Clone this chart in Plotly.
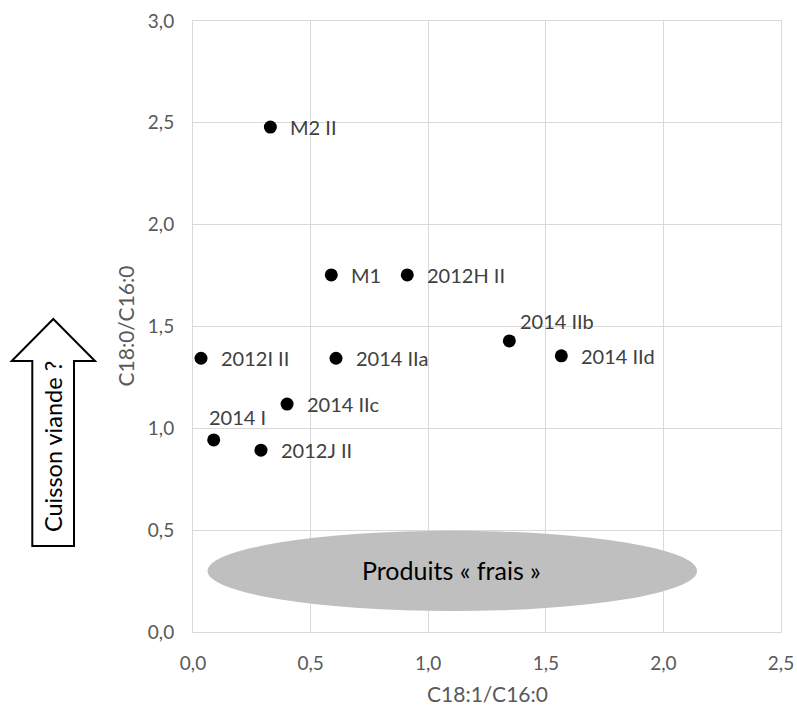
import plotly.graph_objects as go

# ---- data ----
labels = ["M2 II", "M1", "2012H II", "2014 IIb", "2014 IId",
          "2012I II", "2014 IIa", "2014 IIc", "2014 I", "2012J II"]
c18_1_c16_0 = [0.329, 0.588, 0.911, 1.345, 1.566, 0.034, 0.608, 0.400, 0.088, 0.289]
c18_0_c16_0 = [2.479, 1.753, 1.753, 1.429, 1.356, 1.344, 1.344, 1.119, 0.943, 0.893]

x_ticks = [0.0, 0.5, 1.0, 1.5, 2.0, 2.5]
y_ticks = [0.0, 0.5, 1.0, 1.5, 2.0, 2.5, 3.0]

# fresh-products zone (ellipse extent in data units)
fresh_x = [0.062, 2.143]
fresh_y = [0.103, 0.497]
fresh_label = "Produits « frais »"
arrow_label = "Cuisson viande ?"

W, H = 797, 706
ML, MR, MT, MB = 193, 16, 21, 74
PW, PH = W - ML - MR, H - MT - MB

FONT = "Lato, Carlito, Calibri, sans-serif"
GRAY = "#595959"
GRID = "#D9D9D9"


def px(xp):
    return (xp - ML) / PW


def py(yp):
    return (H - MB - yp) / PH


fig = go.Figure()
fig.add_trace(go.Scatter(
    x=c18_1_c16_0, y=c18_0_c16_0, mode="markers",
    marker=dict(size=13, color="black"), hoverinfo="text", text=labels,
    showlegend=False,
))

# point labels
special = {"2014 I": (-7, 23), "2014 IIb": (9, 20)}
for lab, xv, yv in zip(labels, c18_1_c16_0, c18_0_c16_0):
    xs, ys = special.get(lab, (18, 0))
    fig.add_annotation(x=xv, y=yv, text=lab, showarrow=False,
                       xanchor="left", yanchor="middle", xshift=xs, yshift=ys,
                       font=dict(family=FONT, size=20, color="#404040"))

# ellipse
fig.add_shape(type="circle", xref="x", yref="y",
              x0=fresh_x[0], x1=fresh_x[1], y0=fresh_y[0], y1=fresh_y[1],
              fillcolor="#BFBFBF", line=dict(width=0), layer="above")
fig.add_annotation(x=px(451.7), y=py(570), xref="paper", yref="paper",
                   xanchor="center", yanchor="middle",
                   text=fresh_label, showarrow=False,
                   font=dict(family=FONT, size=25, color="black"))

# block arrow
pts = [(53.3, 319), (95, 361), (74, 361), (74, 546), (32.3, 546),
       (32.3, 361), (11.7, 361)]
path = "M " + " L ".join(f"{px(a):.5f},{py(b):.5f}" for a, b in pts) + " Z"
fig.add_shape(type="path", xref="paper", yref="paper", path=path,
              fillcolor="white", line=dict(color="black", width=2))
fig.add_annotation(x=px(53), y=py(447), xref="paper", yref="paper",
                   xanchor="center", yanchor="middle",
                   text=arrow_label, showarrow=False, textangle=-90,
                   font=dict(family=FONT, size=23.5, color="black"))

# axis titles
fig.add_annotation(x=px(125), y=0.5, xref="paper", yref="paper",
                   xanchor="center", yanchor="middle",
                   text="C18:0/C16:0", showarrow=False, textangle=-90,
                   font=dict(family=FONT, size=21, color=GRAY))
fig.add_annotation(x=0.5, y=py(693), xref="paper", yref="paper",
                   xanchor="center", yanchor="middle",
                   text="C18:1/C16:0", showarrow=False,
                   font=dict(family=FONT, size=21, color=GRAY))

fig.update_xaxes(range=[0, 2.5], tickvals=x_ticks,
                 ticktext=[f"{v:.1f}".replace(".", ",") for v in x_ticks],
                 showgrid=True, gridcolor=GRID, gridwidth=1,
                 showline=True, linecolor=GRID, linewidth=1, mirror=True,
                 zeroline=False, ticks="", ticklabelstandoff=14,
                 automargin=False,
                 tickfont=dict(family=FONT, size=19, color=GRAY))
fig.update_yaxes(range=[0, 3.0], tickvals=y_ticks,
                 ticktext=[f"{v:.1f}".replace(".", ",") for v in y_ticks],
                 showgrid=True, gridcolor=GRID, gridwidth=1,
                 showline=True, linecolor=GRID, linewidth=1, mirror=True,
                 zeroline=False, ticks="", ticklabelstandoff=14,
                 automargin=False,
                 tickfont=dict(family=FONT, size=19, color=GRAY))

fig.update_layout(width=W, height=H,
                  margin=dict(l=ML, r=MR, t=MT, b=MB, pad=0, autoexpand=False),
                  paper_bgcolor="white", plot_bgcolor="white",
                  showlegend=False)

fig.write_html("out.html", config={"displayModeBar": False},
               post_script="document.body.style.margin='0';document.body.style.overflow='hidden';")
